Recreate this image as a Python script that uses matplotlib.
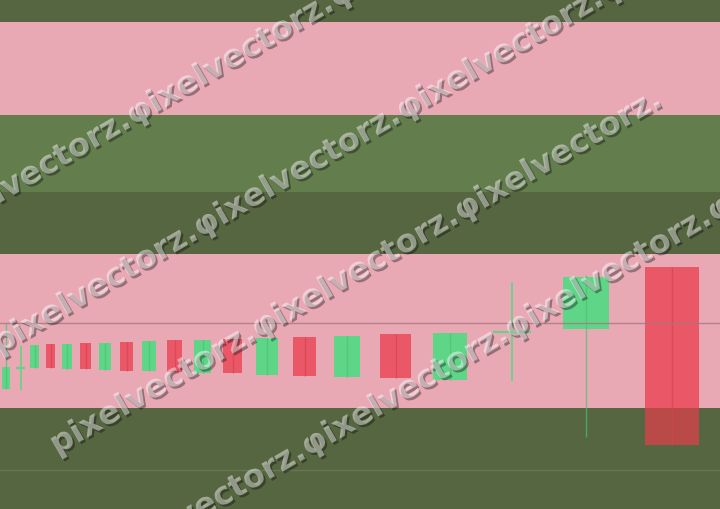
import matplotlib
matplotlib.use("Agg")
import matplotlib.pyplot as plt
import matplotlib.patheffects as pe
import numpy as np

# ---------------------------------------------------
# Data (price scale 0-100, x = session position)
# ---------------------------------------------------

x_pos = [6, 20.5, 34.5, 50.5, 67, 85.5, 105, 126.5, 149, 174.5,
         202.5, 232.5, 267, 304.5, 347, 395.5, 450, 512, 586, 672]
opens = [23.58, 27.70, 27.70, 32.42, 27.50, 32.61, 27.31, 32.81, 27.11, 33.20,
         26.72, 33.40, 26.33, 33.79, 25.93, 34.38, 25.34, 34.77, 35.36, 47.54]
closes = [27.90, 27.70, 32.22, 27.70, 32.42, 27.50, 32.61, 27.11, 33.01, 26.92,
          33.20, 26.72, 33.60, 26.13, 33.99, 25.74, 34.58, 34.77, 45.58, 12.57]
highs = [36.54, 32.02, 32.22, 32.42, 32.42, 32.61, 32.61, 32.81, 33.01, 33.20,
         33.20, 33.40, 33.60, 33.79, 33.99, 34.38, 34.58, 44.60, 45.97, 47.54]
lows = [23.58, 23.38, 27.70, 27.70, 27.50, 27.50, 27.31, 27.11, 27.11, 26.92,
        26.72, 26.72, 26.33, 26.13, 25.93, 25.74, 25.34, 25.15, 14.15, 12.57]

# background zones (bottom, top, kind)
zone_edges = [0, 19.84, 50.10, 62.28, 77.41, 95.68, 100]
zone_kinds = ["dark", "pink", "dark", "light", "pink", "dark"]

ref_level = 36.54
low_level = 7.66

watermark = "pixelvectorz."

# ---------------------------------------------------
# Colors
# ---------------------------------------------------

zone_colors = {"dark": "#566640", "pink": "#e8a9b5", "light": "#637d4d"}
UP, UP_EDGE = "#5fd587", "#48c474"
DOWN, DOWN_EDGE = "#ea5867", "#d8424f"
DOWN_SHADE = "#b94a48"

# ---------------------------------------------------
# Figure
# ---------------------------------------------------

fig = plt.figure(figsize=(7.2, 5.09), dpi=100)
ax = fig.add_axes([0, 0, 1, 1])
ax.set_xlim(0, 720)
ax.set_ylim(0, 100)
ax.axis("off")

for lo, hi, kind in zip(zone_edges[:-1], zone_edges[1:], zone_kinds):
    ax.axhspan(lo, hi, color=zone_colors[kind], lw=0, zorder=0)

# candles - width follows the spacing between sessions
x_arr = np.array(x_pos)
gaps = np.diff(x_arr)
gaps = np.concatenate([[gaps[0]], gaps])
widths = 0.62 * gaps
shade_top = zone_edges[1]

for x, o, c, h, l, w in zip(x_pos, opens, closes, highs, lows, widths):
    up = c >= o
    if abs(c - o) < 1e-6:
        ax.hlines(o, x - w / 2, x + w / 2, color=UP, lw=1.5, zorder=4)
        ax.vlines(x, l, h, color=UP, lw=1.2, zorder=4)
        continue
    ax.bar(x, c - o, bottom=o, width=w, color=UP if up else DOWN,
           lw=0, zorder=2)
    # part of the body inside the lower zone looks shaded
    body_lo = min(o, c)
    if body_lo < shade_top and not up:
        ax.bar(x, shade_top - body_lo, bottom=body_lo, width=w,
               color=DOWN_SHADE, lw=0, zorder=3)
    ax.vlines(x, l, h, color=UP_EDGE if up else DOWN_EDGE, lw=1.0,
              alpha=0.7, zorder=4)

ax.axhline(ref_level, color="#a8787f", lw=1, alpha=0.8, zorder=5)
ax.axhline(low_level, color="#6e7a5c", lw=1, alpha=0.8, zorder=1)

# ---------------------------------------------------
# Watermark rows
# ---------------------------------------------------

W, H = 720, 509
rows = [(-68, 242, 3), (-1, 354, 4), (57, 455, 3), (107, 573, 4)]

shadow = [pe.withSimplePatchShadow(offset=(1.5, -1.5), shadow_rgbFace="black",
                                   alpha=0.35)]

for px, py, reps in rows:
    txt = watermark + (watermark.replace("p", "φ", 1)) * (reps - 1)
    fig.text(px / W, 1 - py / H, txt, rotation=30, rotation_mode="anchor",
             ha="left", va="baseline", fontsize=23, fontweight="bold",
             color="white", alpha=0.45, path_effects=shadow, zorder=10)

plt.savefig("out.png", dpi=100)
